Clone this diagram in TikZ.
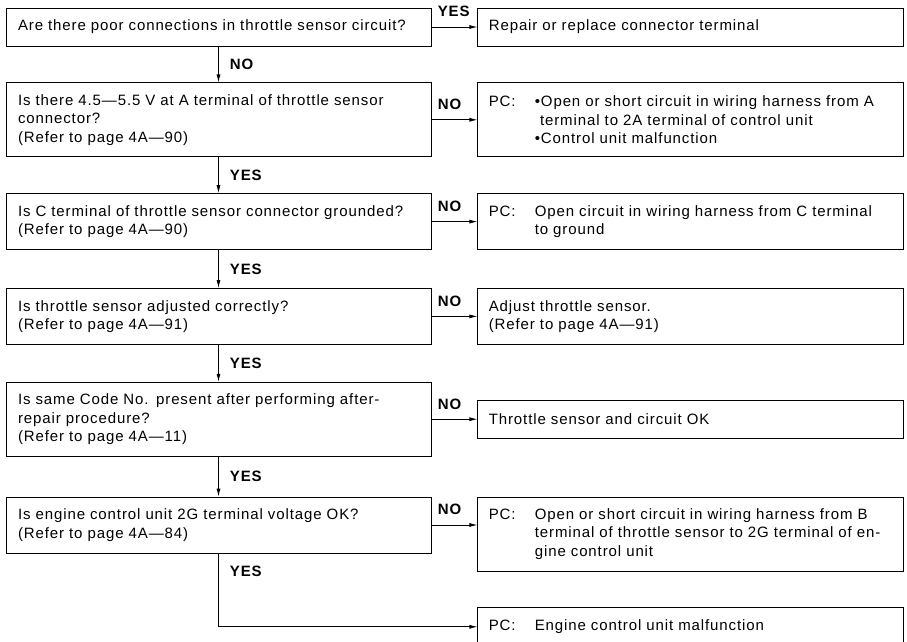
\documentclass[tikz,border=0pt]{standalone}
\usepackage{fontspec}
\setmainfont{Liberation Sans}[LetterSpace=6]
\usepackage{tikz}
\usetikzlibrary{arrows.meta,positioning}
\tikzset{
  qbox/.style={draw=black,line width=0.8pt,text width=401pt,inner xsep=12pt,inner ysep=0pt,
    align=left,font=\fontsize{15}{18.5}\selectfont},
  abox/.style={draw=black,line width=0.8pt,text width=404pt,inner xsep=11pt,inner ysep=0pt,
    align=left,font=\fontsize{15}{18.5}\selectfont},
  one/.style={minimum height=38pt},
  two/.style={minimum height=56pt},
  three/.style={minimum height=74pt},
  arr/.style={-{Latex[length=8pt,width=4pt]},line width=0.8pt},
  lbl/.style={font=\fontsize{15}{15}\selectfont\bfseries,inner sep=2pt},
}
\newcommand{\pcline}[1]{\makebox[46pt][l]{PC:}\parbox[t]{358pt}{#1}}

\begin{document}
\begin{tikzpicture}[x=1pt,y=-1pt]
  \useasboundingbox (0,0) rectangle (907,642);
  \node[qbox,one] (q1) at (218.5,27) {Are there poor connections in throttle sensor circuit?};
  \node[qbox,three,below=36pt of q1] (q2)
    {Is there 4.5—5.5 V at A terminal of throttle sensor\\connector?\\(Refer to page 4A—90)};
  \node[qbox,two,below=36pt of q2] (q3)
    {Is C terminal of throttle sensor connector grounded?\\(Refer to page 4A—90)};
  \node[qbox,two,below=38pt of q3] (q4)
    {Is throttle sensor adjusted correctly?\\(Refer to page 4A—91)};
  \node[qbox,three,below=37pt of q4] (q5)
    {Is same Code No. present after performing after-\\repair procedure?\\(Refer to page 4A—11)};
  \node[qbox,two,below=40pt of q5] (q6)
    {Is engine control unit 2G terminal voltage OK?\\(Refer to page 4A—84)};

  \node[abox,one,right=46pt of q1] (r1) {Repair or replace connector terminal};
  \node[abox,three,right=46pt of q2] (r2)
    {\pcline{•Open or short circuit in wiring harness from A\\
      \phantom{•}terminal to 2A terminal of control unit\\•Control unit malfunction}};
  \node[abox,two,right=46pt of q3] (r3)
    {\pcline{Open circuit in wiring harness from C terminal\\to ground}};
  \node[abox,two,right=46pt of q4] (r4) {Adjust throttle sensor.\\(Refer to page 4A—91)};
  \node[abox,one,right=46pt of q5] (r5) {Throttle sensor and circuit OK};
  \node[abox,three,right=46pt of q6.north east,anchor=north west] (r6)
    {\pcline{Open or short circuit in wiring harness from B\\
      terminal of throttle sensor to 2G terminal of en-\\gine control unit}};
  \node[abox,one,below=36pt of r6] (r7) {\pcline{Engine control unit malfunction}};

  \draw[arr] (q1) -- node[lbl,right=9pt] {NO} (q2);
  \draw[arr] (q2) -- node[lbl,right=9pt] {YES} (q3);
  \draw[arr] (q3) -- node[lbl,right=9pt] {YES} (q4);
  \draw[arr] (q4) -- node[lbl,right=9pt] {YES} (q5);
  \draw[arr] (q5) -- node[lbl,right=9pt] {YES} (q6);
  \draw[arr] (q6.south) |- node[lbl,pos=0.12,right=9pt] {YES} (r7.west);

  \draw[arr] (q1.east) -- node[lbl,pos=0,anchor=south west,xshift=4pt,yshift=7.5pt] {YES} (q1.east -| r1.west);
  \draw[arr] (q2.east) -- node[lbl,pos=0,anchor=south west,xshift=4pt,yshift=7.5pt] {NO} (q2.east -| r2.west);
  \draw[arr] (q3.east) -- node[lbl,pos=0,anchor=south west,xshift=4pt,yshift=7.5pt] {NO} (q3.east -| r3.west);
  \draw[arr] (q4.east) -- node[lbl,pos=0,anchor=south west,xshift=4pt,yshift=7.5pt] {NO} (q4.east -| r4.west);
  \draw[arr] (q5.east) -- node[lbl,pos=0,anchor=south west,xshift=4pt,yshift=7.5pt] {NO} (q5.east -| r5.west);
  \draw[arr] (q6.east) -- node[lbl,pos=0,anchor=south west,xshift=4pt,yshift=7.5pt] {NO} (q6.east -| r6.west);
\end{tikzpicture}
\end{document}
